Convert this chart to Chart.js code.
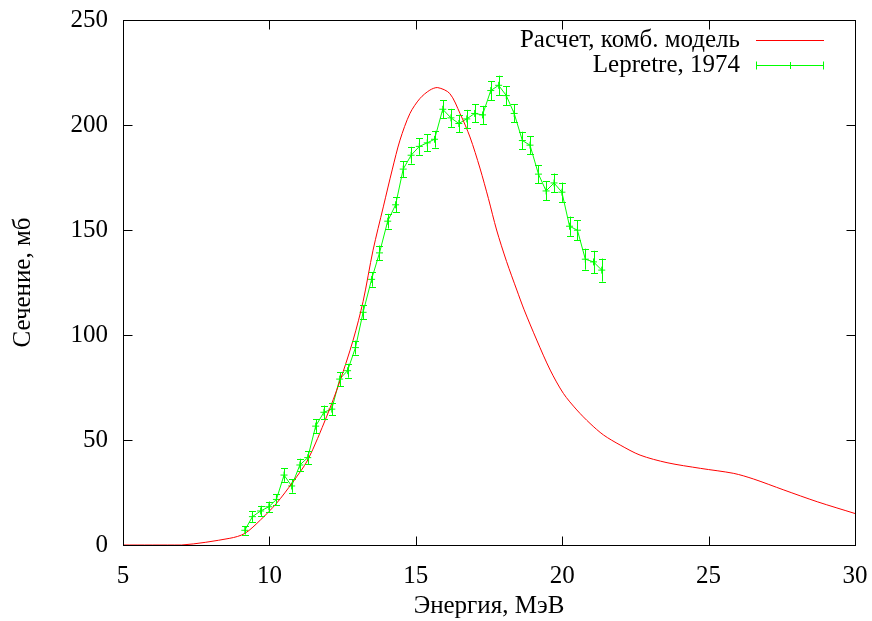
<!DOCTYPE html>
<html><head><meta charset="utf-8">
<script src="https://cdn.jsdelivr.net/npm/chart.js@4/dist/chart.umd.min.js"></script>
<style>html,body{margin:0;padding:0;background:#fff}canvas{display:block}</style>
</head><body>
<canvas id="c" width="872" height="621"></canvas>
<script>
// ---- data ----
const modelEnergy = [5, 7.0, 8.65, 9.16, 9.7, 10.24, 10.8, 11.31, 11.95, 12.4, 12.86, 13.2, 13.54, 13.89, 14.2, 14.46, 14.8, 15.14, 15.48, 15.75, 16.16, 16.51, 16.85, 17.19, 17.48, 17.76, 18.1, 18.45, 18.7, 19.13, 19.59, 20.04, 20.5, 20.95, 21.41, 21.98, 22.66, 23.58, 24.72, 25.86, 26.54, 27.57, 28.71, 30];
const modelSigma  = [0, 0, 3.2, 5.5, 12, 19.8, 30, 40.5, 61, 77.7, 97.6, 116, 140.4, 161, 179, 192.8, 205.5, 212.6, 216.6, 217.8, 215, 205.5, 194.3, 179.5, 165, 150, 135, 121.4, 112, 97.6, 83.3, 72.2, 64.3, 57.9, 52.4, 47.6, 42.8, 39.2, 36.5, 34.1, 31.4, 26.2, 20.6, 15];

const expEnergy = [9.16, 9.42, 9.70, 9.98, 10.24, 10.50, 10.76, 11.04, 11.31, 11.58, 11.86, 12.13, 12.40, 12.67, 12.94, 13.20, 13.49, 13.76, 14.04, 14.31, 14.57, 14.84, 15.12, 15.39, 15.64, 15.92, 16.20, 16.47, 16.74, 17.01, 17.28, 17.56, 17.83, 18.09, 18.36, 18.64, 18.90, 19.19, 19.45, 19.72, 19.99, 20.25, 20.52, 20.79, 21.07, 21.35];
const expSigma  = [7, 13.5, 16.2, 18.2, 21.7, 33.3, 28.1, 38.1, 41.6, 56.6, 63.2, 64.7, 79, 83, 94, 110.8, 126.5, 139.1, 154.2, 162, 179, 185.6, 189.8, 191.5, 193.2, 207.5, 203.4, 200.7, 202.9, 205.5, 204.8, 216.4, 218.9, 214, 205.5, 192.6, 190.4, 176.6, 168.6, 172.4, 168, 151.8, 149.9, 136.1, 134.8, 130.9];
const expError  = [2, 2.5, 2.5, 2.5, 2.5, 3.2, 3.2, 3, 3, 3.3, 3.2, 3, 3.3, 3.3, 3.3, 3.4, 3.5, 3.5, 3.5, 3.6, 3.8, 4, 4, 4, 4, 4.4, 4.3, 4.2, 4.3, 4.3, 4.3, 4.5, 4.6, 4.5, 4.3, 4.2, 4.2, 4.3, 4.5, 4.5, 4.6, 4.6, 4.8, 5, 5.3, 5.5];

const xTicks = [5, 10, 15, 20, 25, 30];
const yTicks = [0, 50, 100, 150, 200, 250];
const seriesLabels = ['Расчет, комб. модель', 'Lepretre, 1974'];
const xTitle = 'Энергия, МэВ';
const yTitle = 'Сечение, мб';

const RED = '#ff0000', GREEN = '#00ff00';
const FONT = 'Liberation Serif';
const FS = 25;
Chart.defaults.font.family = FONT;
Chart.defaults.font.size = FS;
Chart.defaults.color = '#000';

// error bars
const errorBars = {
  id: 'errorBars',
  afterDatasetsDraw(chart) {
    const {ctx, scales: {x, y}} = chart;
    ctx.save();
    ctx.strokeStyle = GREEN; ctx.lineWidth = 1;
    const cap = 3.5;
    expEnergy.forEach((e, i) => {
      const px = Math.round(x.getPixelForValue(e)) + 0.5;
      const y1 = y.getPixelForValue(expSigma[i] - expError[i]);
      const y2 = y.getPixelForValue(expSigma[i] + expError[i]);
      ctx.beginPath();
      ctx.moveTo(px, y1); ctx.lineTo(px, y2);
      ctx.moveTo(px - cap, Math.round(y1) + 0.5); ctx.lineTo(px + cap, Math.round(y1) + 0.5);
      ctx.moveTo(px - cap, Math.round(y2) + 0.5); ctx.lineTo(px + cap, Math.round(y2) + 0.5);
      ctx.stroke();
    });
    ctx.restore();
  }
};

// frame, inward ticks, legend
const frame = {
  id: 'frame',
  afterDraw(chart) {
    const {ctx, chartArea: a, scales: {x, y}} = chart;
    ctx.save();
    ctx.strokeStyle = '#000'; ctx.lineWidth = 1;
    const L = Math.round(a.left) + 0.5, R = Math.round(a.right) + 0.5;
    const T = Math.round(a.top) + 0.5, B = Math.round(a.bottom) + 0.5;
    ctx.strokeRect(L, T, R - L, B - T);
    const tl = 9;
    ctx.beginPath();
    xTicks.forEach(v => {
      const px = Math.round(x.getPixelForValue(v)) + 0.5;
      ctx.moveTo(px, B); ctx.lineTo(px, B - tl);
      ctx.moveTo(px, T); ctx.lineTo(px, T + tl);
    });
    yTicks.forEach(v => {
      const py = Math.round(y.getPixelForValue(v)) + 0.5;
      ctx.moveTo(L, py); ctx.lineTo(L + tl, py);
      ctx.moveTo(R, py); ctx.lineTo(R - tl, py);
    });
    ctx.stroke();

    // legend
    ctx.font = FS + 'px "' + FONT + '"';
    ctx.textAlign = 'right'; ctx.textBaseline = 'middle'; ctx.fillStyle = '#000';
    const textRight = 740, x1 = 756, x2 = 824;
    const rows = [40.5, 65.5];
    ctx.fillText(seriesLabels[0], textRight, rows[0]);
    ctx.fillText(seriesLabels[1], textRight, rows[1]);
    ctx.strokeStyle = RED;
    ctx.beginPath(); ctx.moveTo(x1, rows[0]); ctx.lineTo(x2, rows[0]); ctx.stroke();
    ctx.strokeStyle = GREEN;
    ctx.beginPath();
    ctx.moveTo(x1, rows[1]); ctx.lineTo(x2, rows[1]);
    ctx.moveTo(x1 + 0.5, rows[1] - 4); ctx.lineTo(x1 + 0.5, rows[1] + 4);
    ctx.moveTo(x2 - 0.5, rows[1] - 4); ctx.lineTo(x2 - 0.5, rows[1] + 4);
    const mx = Math.round((x1 + x2) / 2) + 0.5;
    ctx.moveTo(mx, rows[1] - 3.5); ctx.lineTo(mx, rows[1] + 3.5);
    ctx.moveTo(mx - 3.5, rows[1]); ctx.lineTo(mx + 3.5, rows[1]);
    ctx.stroke();
    ctx.restore();
  }
};

const noPad = s => { s.paddingLeft = 0; s.paddingRight = 0; s.paddingTop = 0; s.paddingBottom = 0; };

new Chart(document.getElementById('c'), {
  type: 'scatter',
  data: {
    datasets: [
      {
        label: seriesLabels[0],
        data: modelEnergy.map((e, i) => ({x: e, y: modelSigma[i]})),
        showLine: true, borderColor: RED, borderWidth: 1, pointRadius: 0,
        tension: 0.3
      },
      {
        label: seriesLabels[1],
        data: expEnergy.map((e, i) => ({x: e, y: expSigma[i]})),
        showLine: true, borderColor: GREEN, backgroundColor: GREEN, borderWidth: 1,
        pointStyle: 'cross', pointRadius: 3.5, pointBorderWidth: 1,
        pointBorderColor: GREEN, pointBackgroundColor: GREEN, tension: 0
      }
    ]
  },
  options: {
    responsive: false, animation: false, devicePixelRatio: 1,
    layout: {autoPadding: false, padding: {left: 0, right: 17, top: 20, bottom: 0}},
    plugins: {legend: {display: false}, tooltip: {enabled: false}},
    scales: {
      x: {
        type: 'linear', min: 5, max: 30,
        afterBuildTicks: s => { s.ticks = xTicks.map(v => ({value: v})); },
        grid: {display: false, drawTicks: false}, border: {display: false},
        ticks: {padding: 16, maxRotation: 0, color: '#000'},
        title: {display: true, text: xTitle, padding: {top: 0, bottom: 0}},
        afterFit: s => { s.height = 76; noPad(s); }
      },
      y: {
        type: 'linear', min: 0, max: 250,
        afterBuildTicks: s => { s.ticks = yTicks.map(v => ({value: v})); },
        grid: {display: false, drawTicks: false}, border: {display: false},
        ticks: {padding: 15, color: '#000'},
        title: {display: true, text: yTitle, padding: {top: 8, bottom: 0}},
        afterFit: s => { s.width = 123; noPad(s); }
      }
    }
  },
  plugins: [errorBars, frame]
});
</script>
</body></html>
